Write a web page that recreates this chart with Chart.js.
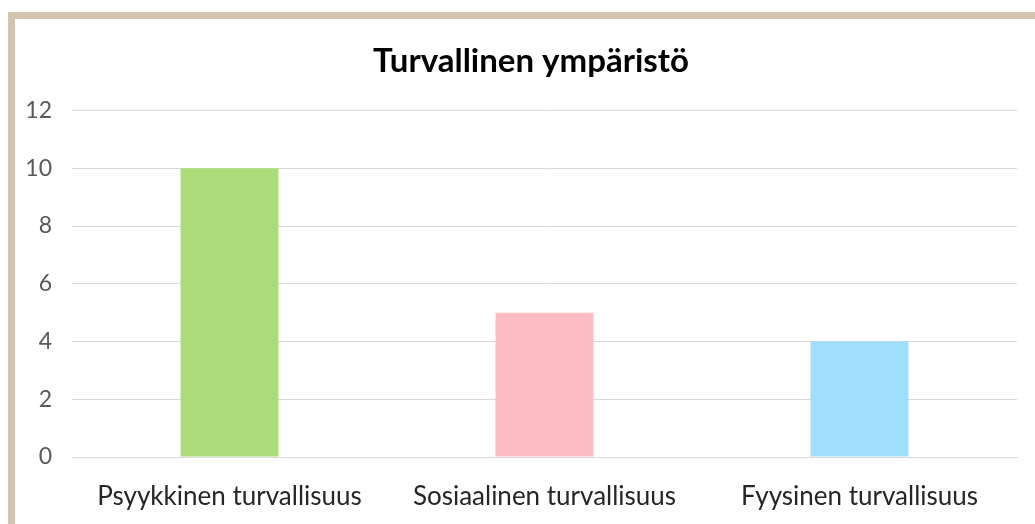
<!DOCTYPE html>
<html>
<head>
<meta charset="utf-8">
<script src="https://cdn.jsdelivr.net/npm/chart.js@4/dist/chart.umd.min.js"></script>
<style>
html,body{margin:0;padding:0;background:#fff;width:1035px;height:524px;overflow:hidden;}
#frame{position:absolute;left:8px;top:12px;width:1020px;height:505px;border-left:7px solid #d4c3af;border-top:7px solid #d4c3af;background:#fff;}
canvas{display:block;}
</style>
</head>
<body>
<div id="frame"><canvas id="c" width="1020" height="505"></canvas></div>
<script>
const titleText = "Turvallinen ympäristö";
const categories = ["Psyykkinen turvallisuus", "Sosiaalinen turvallisuus", "Fyysinen turvallisuus"];
const values = [10, 5, 4];
const barColors = ["#acdb79", "#fdbbc3", "#9fdefd"];
const yMin = 0, yMax = 12, yStep = 2;

const fam = 'Lato, Carlito, "Open Sans", sans-serif';
const titleShift = {
  id: 'titleShift',
  afterLayout(chart) {
    const t = chart.titleBlock;
    if (t) { t.left += 30; t.width = t.right - t.left; }
  }
};
new Chart(document.getElementById('c'), {
  type: 'bar',
  data: {
    labels: categories,
    datasets: [{
      data: values,
      backgroundColor: barColors,
      borderWidth: 0,
      categoryPercentage: 1,
      barPercentage: 0.311
    }]
  },
  plugins: [titleShift],
  options: {
    responsive: false,
    animation: false,
    layout: { padding: { left: 0, right: 18, top: 0, bottom: 0 } },
    plugins: {
      legend: { display: false },
      tooltip: { enabled: false },
      title: {
        display: true,
        text: titleText,
        color: '#000',
        font: { family: fam, size: 33, weight: 'bold', lineHeight: 1.2 },
        padding: { top: 23, bottom: 29 }
      }
    },
    scales: {
      x: {
        afterFit: (s) => { s.height = 67; },
        grid: { display: false, drawTicks: false },
        border: { display: true, color: '#d9d9d9', width: 1 },
        ticks: {
          color: '#262626',
          padding: 24,
          font: { family: fam, size: 26, lineHeight: 1.2 }
        }
      },
      y: {
        min: yMin, max: yMax,
        afterFit: (s) => { s.width = 57; },
        grid: { color: '#d9d9d9', lineWidth: 1, drawTicks: false },
        border: { display: false },
        ticks: {
          stepSize: yStep,
          color: '#595959',
          padding: 20,
          font: { family: fam, size: 23 }
        }
      }
    }
  }
});
</script>
</body>
</html>
